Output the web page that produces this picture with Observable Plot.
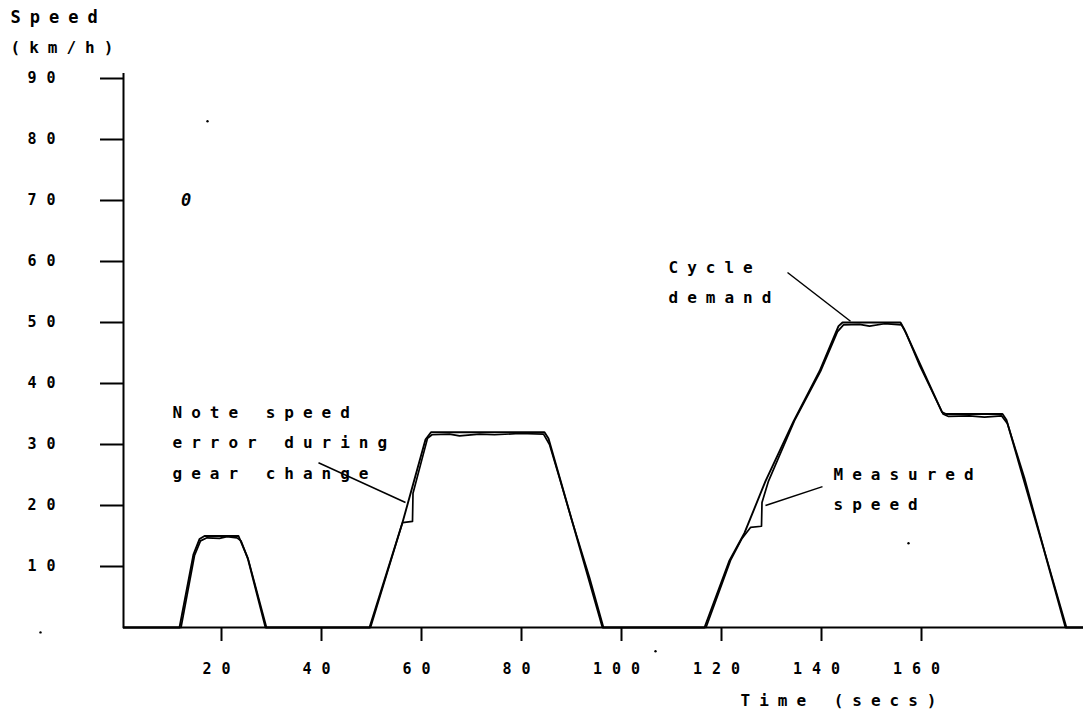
<!DOCTYPE html>
<html>
<head>
<meta charset="utf-8">
<script src="https://cdn.jsdelivr.net/npm/d3@7"></script>
<script src="https://cdn.jsdelivr.net/npm/@observablehq/plot@0.6"></script>
<style>
  html, body { margin: 0; padding: 0; background: #fff; }
  svg text { font-family: "DejaVu Sans Mono", monospace; font-weight: bold; letter-spacing: 9px; fill: #000; }
  g[aria-label$="tick label"] text { letter-spacing: 10px; }
</style>
</head>
<body>
<div id="chart"></div>
<script>
// ---- data ----
const demandTime  = [0.8, 12, 14.8, 16, 17, 23.8, 25.6, 29.2, 50, 56.6, 61.2, 62.3, 85, 85.8, 96.6, 117, 122, 125, 129.2, 134.8, 140, 143.8, 144.6, 156.2, 157, 164.5, 165.3, 176.6, 177.4, 184.8, 189.2, 192.8];
const demandSpeed = [0,   0,  12,   14.5, 15, 15, 11.5, 0,   0,  17.2, 30.8, 32,  32, 31,   0,    0,   11,  15.5, 24,   33.8,  42,  49.4,  50,    50,    48.8, 35.3,  35,    35,    34,    13,    0,     0];

const measuredTime  = [0.8, 12.3, 15, 16.2, 17.5, 20, 21.5, 23.5, 24.3, 25.8, 29.4, 50.2, 56.6, 58.6, 58.7, 60.5, 61.6, 62.5, 66, 68, 72, 75, 80, 84.8, 86, 88, 90.5, 94, 96.8, 117.3, 122.2, 124.5, 126.2, 128.4, 128.5, 129.8, 135, 140.2, 143.6, 144.8, 148, 150, 153, 156.4, 157.3, 160, 164.7, 165.8, 170, 173, 176.4, 177.6, 181, 185, 189.4, 192.8];
const measuredSpeed = [0,   0,    11.8, 14.2, 14.7, 14.6, 14.9, 14.7, 14.2, 11, 0,    0,    17.2, 17.4, 22,   27.6, 31,   31.6, 31.7, 31.4, 31.7, 31.6, 31.8, 31.7, 30, 24.5, 17.5, 8.2, 0,   0,     11,    14.6,  16.4,  16.6,  20.5,  24,    33.9, 42,   48.5,  49.6,  49.7, 49.4, 49.8, 49.6, 48.3, 43, 35, 34.6, 34.7, 34.5, 34.7, 33.4, 24.5, 12.5, 0, 0];

const xTicks = [20, 40, 60, 80, 100, 120, 140, 160];
const yTicks = [10, 20, 30, 40, 50, 60, 70, 80, 90];

const noteText = ["Note speed\nerror during\ngear change", "Cycle\ndemand", "Measured\nspeed"];
const noteX = [10.6, 109.8, 142.8];
const noteY = [31.0, 57.3, 23.3];
const leaderX1 = [39.8, 133.6, 140.6];
const leaderY1 = [27.0, 58.2, 23.1];
const leaderX2 = [57.2, 146.2, 129.2];
const leaderY2 = [20.5, 50.2, 20.0];

const specX = [17.6, -15.8, 107.2, 157.8];
const specY = [83.0, -0.8, -3.9, 13.8];

// ---- build tables ----
const demand = demandTime.map((t, i) => ({t, v: demandSpeed[i]}));
const measured = measuredTime.map((t, i) => ({t, v: measuredSpeed[i]}));
const notes = noteText.map((s, i) => ({s, x: noteX[i], y: noteY[i]}));
const leaders = leaderX1.map((x1, i) => ({x1, y1: leaderY1[i], x2: leaderX2[i], y2: leaderY2[i]}));
const specks = specX.map((x, i) => ({x, y: specY[i]}));

const x0 = 0.8, x1 = 192.8;

const chart = Plot.plot({
  width: 1083,
  height: 714,
  marginLeft: 123,
  marginRight: 0,
  marginTop: 78,
  marginBottom: 87,
  style: {fontFamily: "DejaVu Sans Mono", fontSize: "15px", background: "#fff", color: "#000", overflow: "visible"},
  x: {domain: [x0, x1]},
  y: {domain: [0, 90]},
  marks: [
    Plot.axisY({ticks: yTicks, tickSize: 23, tickPadding: 35, strokeWidth: 2, fontSize: 15, label: null}),
    Plot.axisX({ticks: xTicks, tickSize: 14, tickPadding: 22, strokeWidth: 2, fontSize: 15, dx: 2, label: null}),
    Plot.ruleY([0], {strokeWidth: 2}),
    Plot.ruleX([x0], {y1: 0, y2: 90.8, strokeWidth: 2}),
    Plot.line(demand, {x: "t", y: "v", stroke: "#000", strokeWidth: 1.9, strokeLinejoin: "round"}),
    Plot.line(measured, {x: "t", y: "v", stroke: "#000", strokeWidth: 1.7, strokeLinejoin: "round"}),
    Plot.link(leaders, {x1: "x1", y1: "y1", x2: "x2", y2: "y2", stroke: "#000", strokeWidth: 1.5}),
    Plot.text(notes, {x: "x", y: "y", text: "s", textAnchor: "start", lineAnchor: "middle", lineHeight: 1.9, fontSize: 16}),
    Plot.dot(specks, {x: "x", y: "y", r: 1.2, fill: "#000", stroke: null}),
    Plot.text(["0"], {x: [14.2], y: [70.0], fontSize: 17, fontStyle: "italic", fontWeight: "normal"}),
    Plot.text(["Speed"], {frameAnchor: "top-left", dx: -113, dy: -61, textAnchor: "start", lineAnchor: "middle", fontSize: 17}),
    Plot.text(["(km/h)"], {frameAnchor: "top-left", dx: -113, dy: -31, textAnchor: "start", lineAnchor: "middle", fontSize: 16}),
    Plot.text(["Time (secs)"], {frameAnchor: "bottom-left", dx: 617, dy: 73, textAnchor: "start", lineAnchor: "middle", fontSize: 16})
  ]
});
document.getElementById("chart").appendChild(chart);
</script>
</body>
</html>
